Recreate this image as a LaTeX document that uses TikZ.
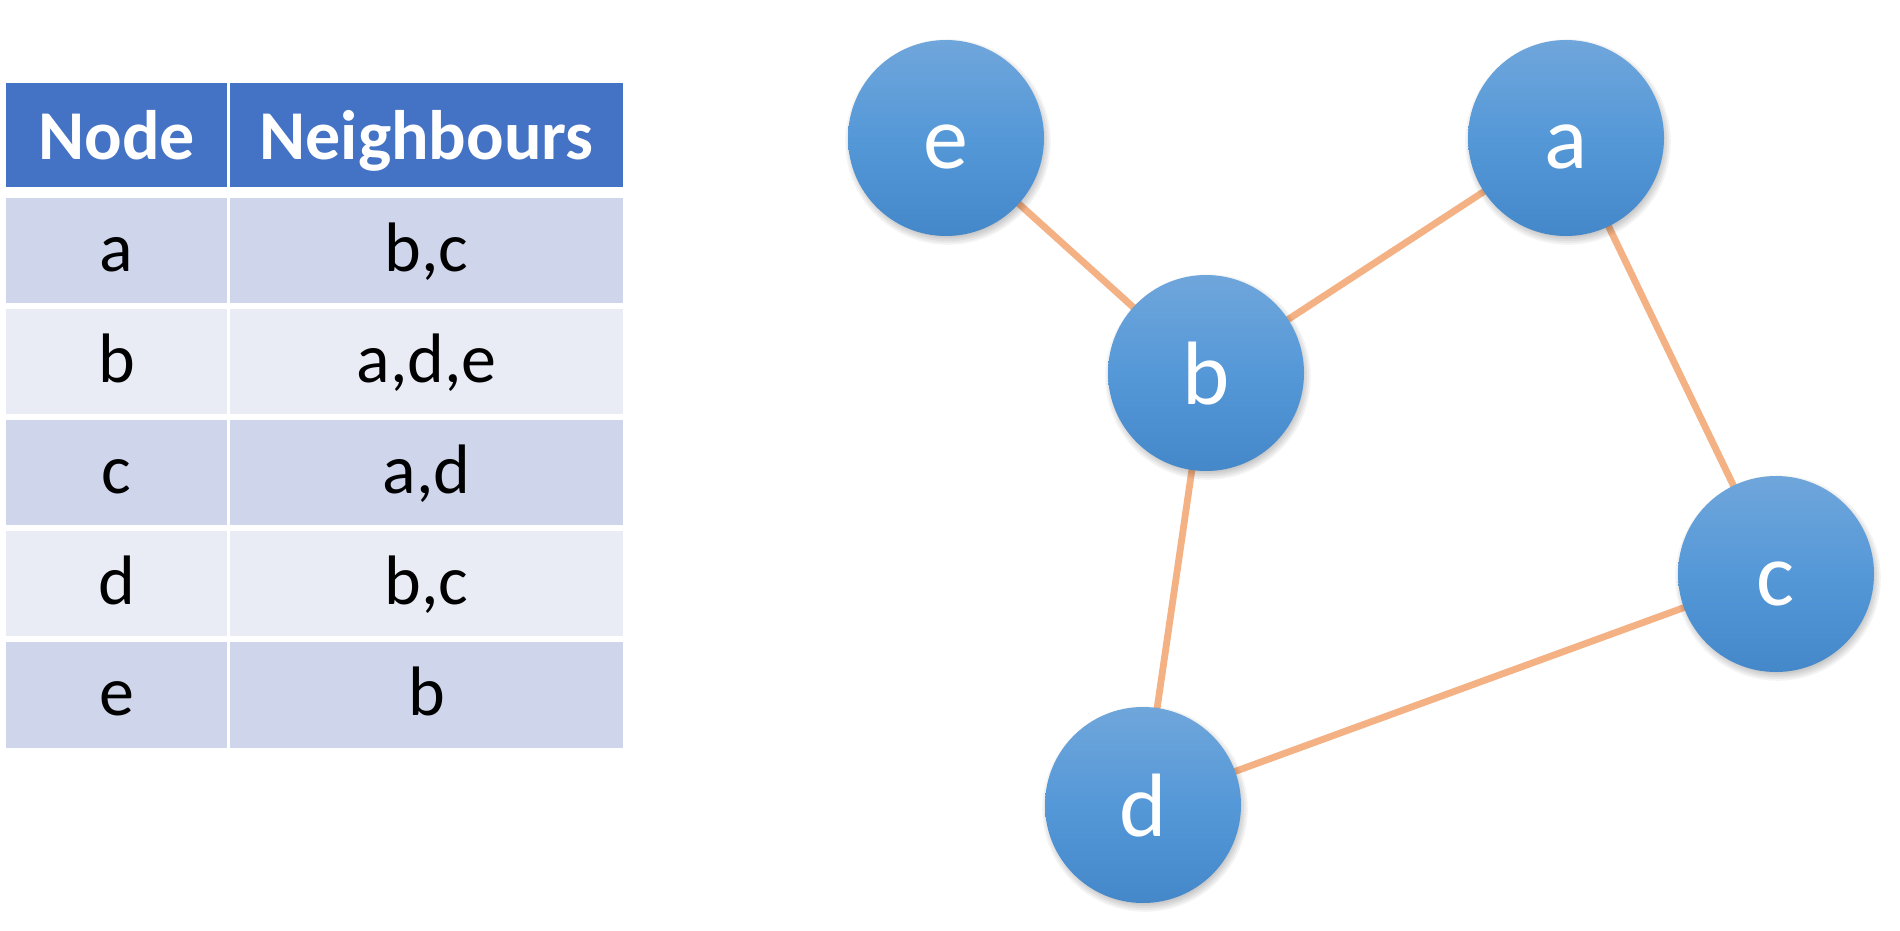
\documentclass[tikz,border=0pt]{standalone}
\usepackage{fontspec}
\setmainfont{Carlito}
\definecolor{hdr}{HTML}{4472C4}
\definecolor{rowA}{HTML}{CFD5EA}
\definecolor{rowB}{HTML}{E9EBF5}
\definecolor{edgec}{HTML}{F4B183}
\definecolor{ctop}{HTML}{6FA6DB}
\definecolor{cmid}{HTML}{5598D8}
\definecolor{cbot}{HTML}{4488CA}
\pgfdeclarelayer{bg}
\pgfdeclarelayer{paper}
\pgfsetlayers{paper,bg,main}
\begin{document}
\begin{tikzpicture}[x=0.5pt,y=-0.5pt,
  hdrtxt/.style={anchor=base, text=white, font=\fontsize{35}{42}\selectfont\bfseries, inner sep=0pt},
  celltxt/.style={anchor=base, text=black, font=\fontsize{35}{42}\selectfont, inner sep=0pt},
  vertex/.style={circle, minimum size=98pt, inner sep=0pt, top color=ctop, bottom color=cbot, middle color=cmid,
    text=white, font=\fontsize{45}{54}\selectfont, text height=40pt, text depth=9pt},
  softshade/.style={fill=black, opacity=0.045},
  link/.style={draw=edgec, line width=3.4pt}
]
\begin{pgfonlayer}{paper}
\fill[white] (0,0) rectangle (1900,931);
\end{pgfonlayer}
\useasboundingbox (0,0) rectangle (1900,931);
% table
\fill[hdr] (6,83) rectangle (227,187);
\fill[hdr] (230,83) rectangle (623,187);
\fill[rowA] (6,198) rectangle (227,303);  \fill[rowA] (230,198) rectangle (623,303);
\fill[rowB] (6,309) rectangle (227,414);  \fill[rowB] (230,309) rectangle (623,414);
\fill[rowA] (6,420) rectangle (227,525);  \fill[rowA] (230,420) rectangle (623,525);
\fill[rowB] (6,531) rectangle (227,636);  \fill[rowB] (230,531) rectangle (623,636);
\fill[rowA] (6,642) rectangle (227,748);  \fill[rowA] (230,642) rectangle (623,748);
\node[hdrtxt] (h1) at (116.5,160) {Node};
\node[hdrtxt] (h2) at (426.5,160) {Neighbours};
\node[celltxt] (r1a) at (116.5,271) {a};   \node[celltxt] (r1b) at (426.5,271) {b,c};
\node[celltxt] (r2a) at (116.5,382) {b};   \node[celltxt] (r2b) at (426.5,382) {a,d,e};
\node[celltxt] (r3a) at (116.5,493) {c};   \node[celltxt] (r3b) at (426.5,493) {a,d};
\node[celltxt] (r4a) at (116.5,604) {d};   \node[celltxt] (r4b) at (426.5,604) {b,c};
\node[celltxt] (r5a) at (116.5,715) {e};   \node[celltxt] (r5b) at (426.5,715) {b};
% graph
\node[vertex] (e) at (946,138) {e};
\node[vertex] (a) at (1566,138) {a};
\node[vertex] (b) at (1206,373) {b};
\node[vertex] (c) at (1776,574) {c};
\node[vertex] (d) at (1143,805) {d};
\begin{pgfonlayer}{bg}
\draw[link] (e.center) -- (b.center);
\draw[link] (b.center) -- (a.center);
\draw[link] (a.center) -- (c.center);
\draw[link] (b.center) -- (d.center);
\draw[link] (d.center) -- (c.center);
\foreach \n in {a,b,c,d,e}{
  \foreach \k in {0,...,6}{
    \fill[softshade] ([xshift=1pt,yshift=-2pt]\n.center) circle[radius=46pt+\k*0.9pt];
  }
}
\end{pgfonlayer}
\end{tikzpicture}
\end{document}
